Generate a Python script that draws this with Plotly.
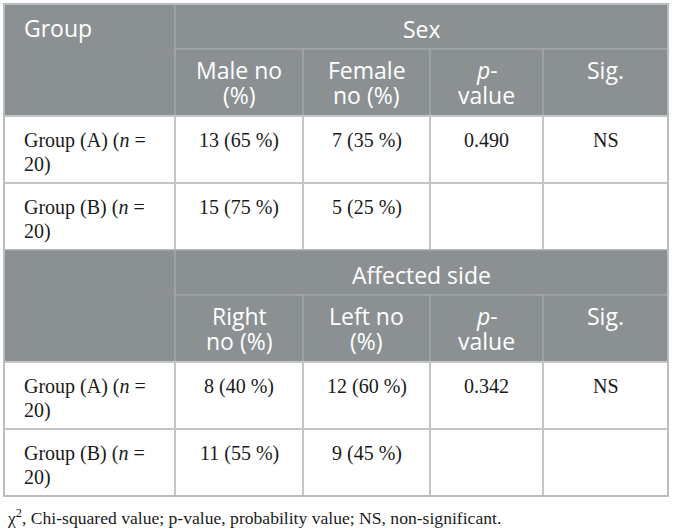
import plotly.graph_objects as go

# %% data read off the table
groups = ["Group (A)", "Group (B)"]
group_n = [20, 20]

male_n = [13, 15]
male_pct = [65, 75]
female_n = [7, 5]
female_pct = [35, 25]
sex_p = ["0.490", ""]
sex_sig = ["NS", ""]

right_n = [8, 11]
right_pct = [40, 55]
left_n = [12, 9]
left_pct = [60, 45]
side_p = ["0.342", ""]
side_sig = ["NS", ""]

sex_heads = [["Male no", "(%)"], ["Female", "no (%)"], ["<i>p</i>-", "value"], ["Sig."]]
side_heads = [["Right", "no (%)"], ["Left no", "(%)"], ["<i>p</i>-", "value"], ["Sig."]]

footnote = "χ<sup>2</sup>, Chi-squared value; p-value, probability value; NS, non-significant."

# %% layout / style
W, H = 674, 531
col_x = [4, 175, 303, 430, 543, 668]
head_h, sub_h, body_h = 45, 67, 67
HEAD = "#8b9193"
HEAD_LINE = "#a8adaf"
BODY_LINE = "#c3c6c6"
SANS = "Open Sans"
SERIF = "Liberation Serif"

shapes = []
annotations = []


def rect(x0, y0, x1, y1, fill, line, lw):
    shapes.append(dict(type="rect", xref="x", yref="y", x0=x0, y0=y0, x1=x1, y1=y1,
                       fillcolor=fill, line=dict(color=line, width=lw), layer="below"))


def text(x, y, s, font, size, color, align="center"):
    annotations.append(dict(x=x, y=y, xref="x", yref="y", text=s, showarrow=False,
                            xanchor=align, yanchor="middle",
                            font=dict(family=font, size=size, color=color)))


def lines(x, top, parts, font, size, color, step, align="center", pad=23):
    for i, p in enumerate(parts):
        text(x, top + pad + i * step, p, font, size, color, align)


def section(top, title, first_label, heads, cols):
    # header block
    rect(col_x[0], top, col_x[1], top + head_h + sub_h, HEAD, HEAD_LINE, 1)
    rect(col_x[1], top, col_x[-1], top + head_h, HEAD, HEAD_LINE, 1)
    if first_label:
        lines(col_x[0] + 18, top, [first_label], SANS, 23, "white", 25, "left", pad=24)
    lines((col_x[1] + col_x[-1]) / 2, top, [title], SANS, 23, "white", 25, pad=25)
    for j, h in enumerate(heads):
        x0, x1 = col_x[j + 1], col_x[j + 2]
        rect(x0, top + head_h, x1, top + head_h + sub_h, HEAD, HEAD_LINE, 1)
        lines((x0 + x1) / 2, top + head_h, h, SANS, 23, "white", 25, pad=21)
    # body rows
    y = top + head_h + sub_h
    for i, g in enumerate(groups):
        rect(col_x[0], y, col_x[1], y + body_h, "white", BODY_LINE, 2)
        lines(col_x[0] + 18, y, [f"{g} (<i>n</i> =", f"{group_n[i]})"],
              SERIF, 20, "#1a1a1a", 24, "left", pad=24)
        for j, c in enumerate(cols):
            x0, x1 = col_x[j + 1], col_x[j + 2]
            rect(x0, y, x1, y + body_h, "white", BODY_LINE, 2)
            if c[i]:
                lines((x0 + x1) / 2, y, [c[i]], SERIF, 20, "#1a1a1a", 24, pad=24)
        y += body_h
    return y


def fmt(ns, ps):
    return [f"{n} ({p} %)" for n, p in zip(ns, ps)]


bottom1 = section(4, "Sex", "Group", sex_heads,
                  [fmt(male_n, male_pct), fmt(female_n, female_pct), sex_p, sex_sig])
bottom2 = section(bottom1, "Affected side", "", side_heads,
                  [fmt(right_n, right_pct), fmt(left_n, left_pct), side_p, side_sig])

# outer frame
rect(col_x[0], 4, col_x[-1], bottom2, "rgba(0,0,0,0)", "#b9bdbd", 2)

text(5, 517, footnote, SERIF, 17.6, "#1a1a1a", "left")

fig = go.Figure()
fig.update_layout(
    width=W, height=H,
    margin=dict(l=0, r=0, t=0, b=0),
    paper_bgcolor="white", plot_bgcolor="white",
    xaxis=dict(range=[0, W], visible=False, fixedrange=True),
    yaxis=dict(range=[H, 0], visible=False, fixedrange=True),
    shapes=shapes,
    annotations=annotations,
    showlegend=False,
)

# the page body has a default margin; drop it so the figure sits at 0,0
fig.write_html("out.html", config={"displayModeBar": False},
               post_script="document.body.style.margin='0';document.body.style.overflow='hidden';")
